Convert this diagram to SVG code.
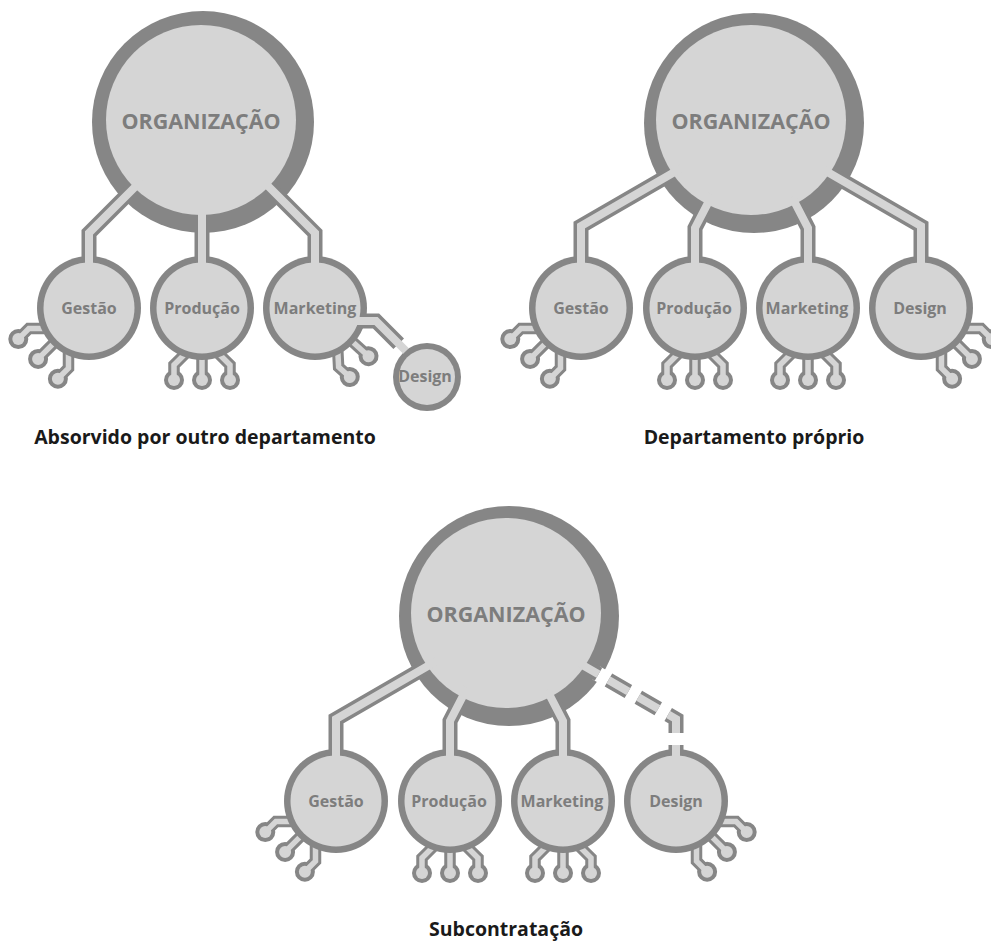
<svg xmlns="http://www.w3.org/2000/svg" width="991" height="944" viewBox="0 0 991 944">
<style>
.ring{fill:#868686}
.disc{fill:#d5d5d5}
.pg{fill:none;stroke:#868686;stroke-width:15;stroke-linejoin:miter}
.pl{fill:none;stroke:#d5d5d5;stroke-width:8;stroke-linejoin:miter}
.sg{fill:none;stroke:#868686;stroke-width:11.5;stroke-linejoin:miter}
.sl{fill:none;stroke:#d5d5d5;stroke-width:5.5;stroke-linejoin:miter}
.big{font-family:'Open Sans','Liberation Sans',sans-serif;font-weight:700;font-size:21.5px;fill:#7d7d7d;text-anchor:middle}
.lbl{font-family:'Open Sans','Liberation Sans',sans-serif;font-weight:700;font-size:16px;fill:#7d7d7d;text-anchor:middle}
.cap{font-family:'Open Sans','Liberation Sans',sans-serif;font-weight:700;font-size:19.5px;fill:#1a1a1a;text-anchor:middle}
</style>
<defs>
<g id="pinL"><path class="sg" d="M-17,46 L-28,57 L-28,72"/><circle class="ring" cx="-28" cy="72" r="10"/><path class="sl" d="M-13,42 L-28,57 L-28,72"/><circle class="disc" cx="-28" cy="72" r="6"/></g>
<g id="pinM"><path class="sg" d="M0,49 L0,72"/><circle class="ring" cx="0" cy="72" r="10"/><path class="sl" d="M0,43 L0,72"/><circle class="disc" cx="0" cy="72" r="6"/></g>
<g id="pinR"><path class="sg" d="M17,46 L28,57 L28,72"/><circle class="ring" cx="28" cy="72" r="10"/><path class="sl" d="M13,42 L28,57 L28,72"/><circle class="disc" cx="28" cy="72" r="6"/></g>
</defs>

<!-- Top-left diagram -->
<g id="tl-organizacao"><circle class="ring" cx="203" cy="122" r="111"/><circle class="disc" cx="201" cy="120" r="95"/><text class="big" x="201" y="129">ORGANIZAÇÃO</text></g>
<g id="tl-gestao"><use href="#pinL" transform="translate(89,308) rotate(45)"/><use href="#pinM" transform="translate(89,308) rotate(45)"/><use href="#pinR" transform="translate(89,308) rotate(45)"/><circle class="ring" cx="89" cy="308" r="52"/><circle class="disc" cx="89" cy="308" r="45.5"/><text class="lbl" x="89" y="313.5">Gestão</text></g>
<g id="tl-producao"><use href="#pinL" transform="translate(202,308)"/><use href="#pinM" transform="translate(202,308)"/><use href="#pinR" transform="translate(202,308)"/><circle class="ring" cx="202" cy="308" r="52"/><circle class="disc" cx="202" cy="308" r="45.5"/><text class="lbl" x="202" y="313.5">Produção</text></g>
<g id="tl-marketing"><use href="#pinL" transform="translate(315,308) rotate(-48)"/><use href="#pinM" transform="translate(315,308) rotate(-48)"/><circle class="ring" cx="315" cy="308" r="52"/><circle class="disc" cx="315" cy="308" r="45.5"/><text class="lbl" x="315" y="313.5">Marketing</text></g>
<g id="tl-design"><circle class="ring" cx="427" cy="377" r="34"/><circle class="disc" cx="427" cy="377" r="28"/><text class="lbl" x="425" y="382">Design</text></g>

<!-- Top-right diagram -->
<g id="tr-organizacao"><circle class="ring" cx="754" cy="123" r="110"/><circle class="disc" cx="751" cy="120" r="95"/><text class="big" x="751" y="129">ORGANIZAÇÃO</text></g>
<g id="tr-gestao"><use href="#pinL" transform="translate(581,308) rotate(45)"/><use href="#pinM" transform="translate(581,308) rotate(45)"/><use href="#pinR" transform="translate(581,308) rotate(45)"/><circle class="ring" cx="581" cy="308" r="52"/><circle class="disc" cx="581" cy="308" r="45.5"/><text class="lbl" x="581" y="313.5">Gestão</text></g>
<g id="tr-producao"><use href="#pinL" transform="translate(695,308)"/><use href="#pinM" transform="translate(695,308)"/><use href="#pinR" transform="translate(695,308)"/><circle class="ring" cx="695" cy="308" r="52"/><circle class="disc" cx="695" cy="308" r="45.5"/><text class="lbl" x="694" y="313.5">Produção</text></g>
<g id="tr-marketing"><use href="#pinL" transform="translate(808,308)"/><use href="#pinM" transform="translate(808,308)"/><use href="#pinR" transform="translate(808,308)"/><circle class="ring" cx="808" cy="308" r="52"/><circle class="disc" cx="808" cy="308" r="45.5"/><text class="lbl" x="807" y="313.5">Marketing</text></g>
<g id="tr-design"><use href="#pinL" transform="translate(921,308) rotate(-45)"/><use href="#pinM" transform="translate(921,308) rotate(-45)"/><use href="#pinR" transform="translate(921,308) rotate(-45)"/><circle class="ring" cx="921" cy="308" r="52"/><circle class="disc" cx="921" cy="308" r="45.5"/><text class="lbl" x="920" y="313.5">Design</text></g>

<!-- Bottom diagram -->
<g id="b-organizacao"><circle class="ring" cx="509" cy="616" r="110"/><circle class="disc" cx="506" cy="613" r="95"/><text class="big" x="506" y="622">ORGANIZAÇÃO</text></g>
<g id="b-gestao"><use href="#pinL" transform="translate(336,801) rotate(45)"/><use href="#pinM" transform="translate(336,801) rotate(45)"/><use href="#pinR" transform="translate(336,801) rotate(45)"/><circle class="ring" cx="336" cy="801" r="52"/><circle class="disc" cx="336" cy="801" r="45.5"/><text class="lbl" x="336" y="806.5">Gestão</text></g>
<g id="b-producao"><use href="#pinL" transform="translate(450,801)"/><use href="#pinM" transform="translate(450,801)"/><use href="#pinR" transform="translate(450,801)"/><circle class="ring" cx="450" cy="801" r="52"/><circle class="disc" cx="450" cy="801" r="45.5"/><text class="lbl" x="449" y="806.5">Produção</text></g>
<g id="b-marketing"><use href="#pinL" transform="translate(563,801)"/><use href="#pinM" transform="translate(563,801)"/><use href="#pinR" transform="translate(563,801)"/><circle class="ring" cx="563" cy="801" r="52"/><circle class="disc" cx="563" cy="801" r="45.5"/><text class="lbl" x="562" y="806.5">Marketing</text></g>
<g id="b-design"><use href="#pinL" transform="translate(676,801) rotate(-45)"/><use href="#pinM" transform="translate(676,801) rotate(-45)"/><use href="#pinR" transform="translate(676,801) rotate(-45)"/><circle class="ring" cx="676" cy="801" r="52"/><circle class="disc" cx="676" cy="801" r="45.5"/><text class="lbl" x="676" y="806.5">Design</text></g>

<!-- Connectors -->
<g id="connectors">
  <!-- top-left -->
  <path class="pg" d="M89,259 L89,233 L129,193"/><path class="pl" d="M89,268 L89,233 L142,180"/>
  <path class="pg" d="M202,259 L202,224"/><path class="pl" d="M202,268 L202,208"/>
  <path class="pg" d="M315,259 L315,233 L275.5,193.5"/><path class="pl" d="M315,268 L315,233 L261,179"/>
  <path class="pg" d="M362,321 L376,321 L398.7,343.7"/><path class="pl" d="M355,321 L376,321 L406,351"/>
  <!-- top-right -->
  <path class="pg" d="M581,259 L581,226 L667.6,176"/><path class="pl" d="M581,268 L581,226 L681.5,168"/>
  <path class="pg" d="M695,259 L695,228 L704.2,210.2"/><path class="pl" d="M695,268 L695,228 L712.3,194.6"/>
  <path class="pg" d="M808,259 L808,228 L799.9,212.3"/><path class="pl" d="M808,268 L808,228 L791.9,196.9"/>
  <path class="pg" d="M921,259 L921,226 L837.9,178"/><path class="pl" d="M921,268 L921,226 L823.1,169.5"/>
  <!-- bottom -->
  <path class="pg" d="M336,752 L336,719 L422.6,669"/><path class="pl" d="M336,761 L336,719 L436.5,661"/>
  <path class="pg" d="M450,752 L450,721 L459.2,703.2"/><path class="pl" d="M450,761 L450,721 L467.3,687.6"/>
  <path class="pg" d="M563,752 L563,721 L554.9,705.3"/><path class="pl" d="M563,761 L563,721 L546.9,689.9"/>
  <path d="M603.3,677 L596.3,673" fill="none" stroke="#ffffff" stroke-width="15"/>
  <path class="pg" d="M676,752 L676,719 L592.9,671" stroke-dasharray="7 12 23 11.5 23 11.5 23 11.5 30"/>
  <path class="pl" d="M676,761 L676,719 L580.2,663.7" stroke-dasharray="16 12 23 11.5 23 11.5 23 11.5 30"/>
</g>

<g id="captions">
<text class="cap" x="205" y="444">Absorvido por outro departamento</text>
<text class="cap" x="754" y="444">Departamento próprio</text>
<text class="cap" x="506" y="936">Subcontratação</text>
</g>
</svg>
